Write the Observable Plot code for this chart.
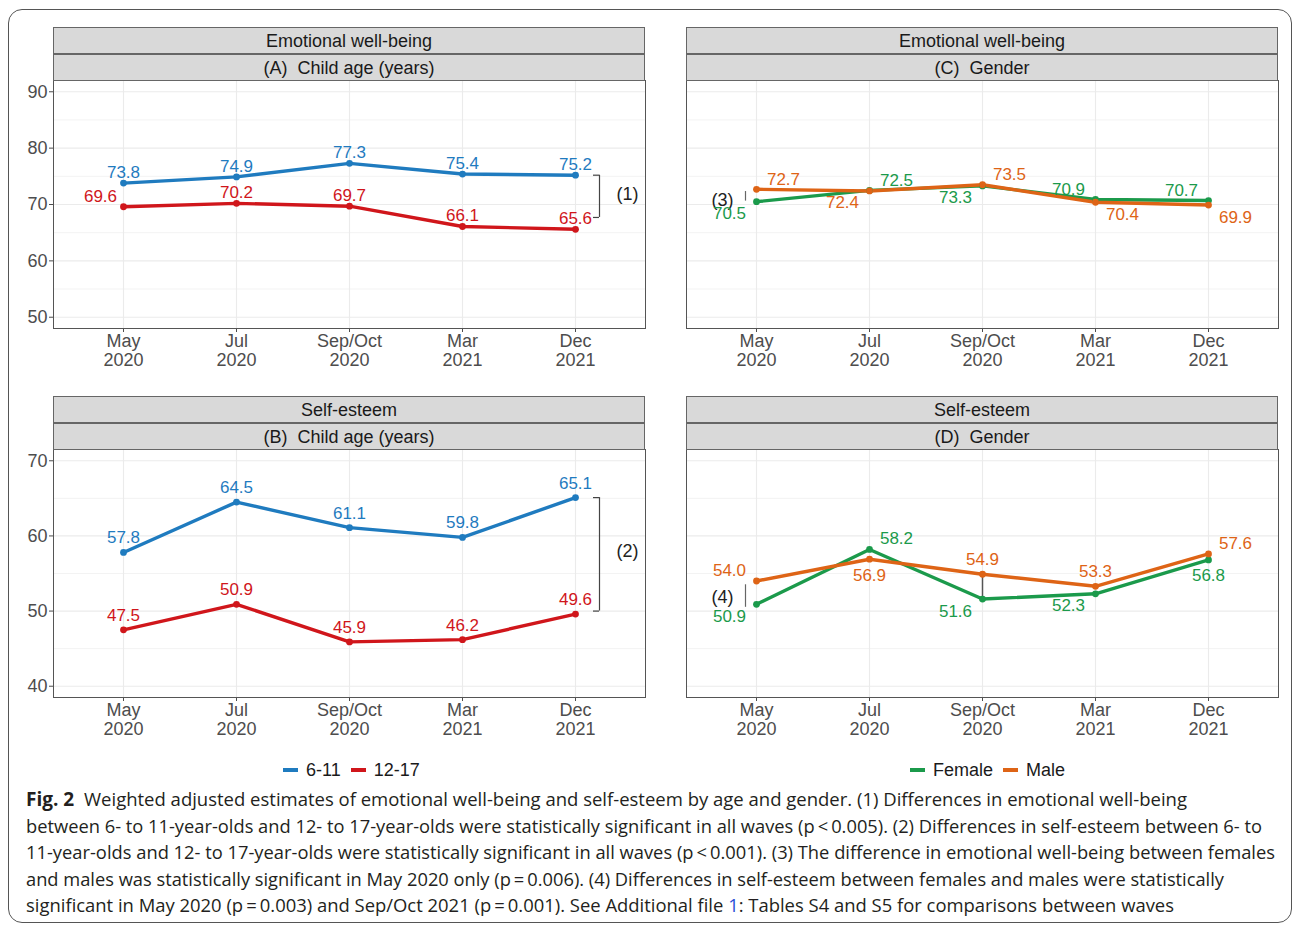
<!DOCTYPE html>
<html>
<head>
<meta charset="utf-8">
<script src="https://cdn.jsdelivr.net/npm/d3@7"></script>
<script src="https://cdn.jsdelivr.net/npm/@observablehq/plot@0.6"></script>
<style>
  body { margin: 0; background: #fff; }
  #fig { position: relative; width: 1292px; height: 925px; overflow: hidden; background: #fff;
         font-family: "Liberation Sans", Arial, sans-serif; }
  .frame { position: absolute; left: 8px; top: 9px; width: 1284px; height: 914px; box-sizing: border-box;
           border: 1.5px solid #555; border-radius: 14px; }
  .strip { position: absolute; box-sizing: border-box; background: #d9d9d9; border: 1px solid #666;
           text-align: center; font-size: 18px; color: #1a1a1a; white-space: pre; }
  .plotwrap { position: absolute; }
  .legend { position: absolute; display: flex; align-items: center; font-size: 18px; color: #1a1a1a; height: 24px; }
  .legend .key { display: inline-block; width: 15px; height: 4px; margin-right: 8px; }
  .legend .lab { margin-right: 10px; }
</style>
</head>
<body>
<div id="fig"><div class="frame"></div></div>
<script>
// Survey waves (x axis)
const waves = ["May 2020", "Jul 2020", "Sep/Oct 2020", "Mar 2021", "Dec 2021"];
const waveMonth = ["May", "Jul", "Sep/Oct", "Mar", "Dec"];
const waveYear = ["2020", "2020", "2020", "2021", "2021"];

// Groups
const ageGroups = ["6-11", "12-17"];
const genders = ["Female", "Male"];

// Emotional well-being by child age
const ewbAge611 = [73.8, 74.9, 77.3, 75.4, 75.2];
const ewbAge1217 = [69.6, 70.2, 69.7, 66.1, 65.6];
// Self-esteem by child age
const seAge611 = [57.8, 64.5, 61.1, 59.8, 65.1];
const seAge1217 = [47.5, 50.9, 45.9, 46.2, 49.6];
// Emotional well-being by gender
const ewbFemale = [70.5, 72.5, 73.3, 70.9, 70.7];
const ewbMale = [72.7, 72.4, 73.5, 70.4, 69.9];
// Self-esteem by gender
const seFemale = [50.9, 58.2, 51.6, 52.3, 56.8];
const seMale = [54.0, 56.9, 54.9, 53.3, 57.6];

// Axis ticks
const ewbTicks = [50, 60, 70, 80, 90];
const ewbMinor = [55, 65, 75, 85];
const seTicks = [40, 50, 60, 70];
const seMinor = [45, 55, 65];

const ageColors = ["#1f7bbf", "#d0161b"];
const genderColors = ["#1b9a4b", "#de6416"];

// Where each value label sits relative to its point (compass direction)
const placeEwbAge = { "6-11": ["n", "n", "n", "n", "n"], "12-17": ["nw", "n", "n", "n", "n"] };
const placeSeAge = { "6-11": ["n", "n", "n", "n", "n"], "12-17": ["n", "n", "n", "n", "n"] };
const placeEwbGender = { "Female": ["sw", "ne", "sw", "nw", "nw"], "Male": ["ne", "sw", "ne", "se", "se"] };
const placeSeGender = { "Female": ["sw", "ne", "sw", "sw", "s"], "Male": ["nw", "s", "n", "n", "ne"] };

const W = 592, H = 248, ML = 50, MR = 20, MT = 20, MB = 50;
const fig = document.getElementById("fig");

function drawPanel(cfg) {
  const rows = cfg.series.flatMap(s =>
    s.values.map((v, i) => ({ group: s.name, wave: waves[i], value: v, pos: s.place[i] })));

  const labelMarks = Object.entries(cfg.offsets).map(([code, [dx, dy]]) =>
    Plot.text(rows.filter(d => d.pos === code), {
      x: "wave", y: "value", text: d => d.value.toFixed(1),
      fill: "group", dx, dy, fontSize: 17
    }));

  const brackets = cfg.brackets || [];
  const bars = cfg.bars || [];
  const links = cfg.links || [];

  const chart = Plot.plot({
    width: W + ML + MR,
    height: H + MT + MB,
    marginLeft: ML, marginRight: MR, marginTop: MT, marginBottom: MB,
    style: { background: "transparent", overflow: "visible", fontSize: "18px",
             fontFamily: "'Liberation Sans', Arial, sans-serif", color: "#4d4d4d" },
    x: { type: "point", domain: waves, padding: 0.6, tickSize: 4, tickFormat: () => "", label: null },
    y: cfg.showY
      ? { domain: cfg.yDomain, ticks: cfg.yTicks, tickSize: 4, tickPadding: 2, label: null }
      : { domain: cfg.yDomain, axis: null },
    color: { domain: cfg.series.map(s => s.name), range: cfg.colors },
    marks: [
      Plot.ruleY(cfg.yMinor, { stroke: "#f3f3f3", strokeWidth: 1 }),
      Plot.ruleY(cfg.yTicks, { stroke: "#ebebeb", strokeWidth: 1.1 }),
      Plot.ruleX(waves, { stroke: "#ebebeb", strokeWidth: 1.1 }),
      Plot.frame({ stroke: "#555", strokeWidth: 1 }),
      // significance brackets to the right of the last wave
      Plot.ruleX(brackets, { x: "wave", y1: "y1", y2: "y2", dx: 24, stroke: "#444", strokeWidth: 1.2 }),
      Plot.ruleY(brackets.flatMap(b => [{ wave: b.wave, y: b.y1 }, { wave: b.wave, y: b.y2 }]),
        { x1: "wave", x2: "wave", y: "y", insetLeft: 18, insetRight: -24, stroke: "#444", strokeWidth: 1.2 }),
      Plot.text(brackets, { x: "wave", y: "ty", text: "text", dx: 52, fontSize: 18, fill: "#222" }),
      // short markers left of the first wave
      Plot.ruleX(bars, { x: "wave", y1: "y1", y2: "y2", dx: -11, stroke: "#666", strokeWidth: 1.2 }),
      Plot.text(bars, { x: "wave", y: "ty", text: "text", dx: -34, fontSize: 18, fill: "#222" }),
      // connector between the two groups at one wave
      Plot.ruleX(links, { x: "wave", y1: "y1", y2: "y2", stroke: "#555", strokeWidth: 1.5 }),
      Plot.line(rows, { x: "wave", y: "value", z: "group", stroke: "group", strokeWidth: 3.4,
                        strokeLinejoin: "round", strokeLinecap: "round" }),
      Plot.dot(rows, { x: "wave", y: "value", fill: "group", r: 3.4 }),
      ...labelMarks,
      Plot.text(waves, { x: d => d, text: (d, i) => waveMonth[i], frameAnchor: "bottom", dy: 18, fontSize: 18, fill: "#4d4d4d" }),
      Plot.text(waves, { x: d => d, text: (d, i) => waveYear[i], frameAnchor: "bottom", dy: 37, fontSize: 18, fill: "#4d4d4d" })
    ]
  });

  const wrap = document.createElement("div");
  wrap.className = "plotwrap";
  wrap.style.left = (cfg.left - ML) + "px";
  wrap.style.top = (cfg.top - MT) + "px";
  wrap.style.width = (W + ML + MR) + "px";
  wrap.appendChild(chart);
  fig.appendChild(wrap);

  // two stacked facet strips above the panel
  cfg.strips.forEach((label, k) => {
    const s = document.createElement("div");
    s.className = "strip";
    s.style.left = cfg.left + "px";
    s.style.width = W + "px";
    s.style.top = (cfg.top - 53 + k * 26.5) + "px";
    s.style.height = "27px";
    s.style.lineHeight = "26px";
    s.textContent = label;
    fig.appendChild(s);
  });
}

drawPanel({
  left: 53, top: 80, showY: true,
  yDomain: [48, 92], yTicks: ewbTicks, yMinor: ewbMinor,
  colors: ageColors,
  series: [
    { name: ageGroups[0], values: ewbAge611, place: placeEwbAge["6-11"] },
    { name: ageGroups[1], values: ewbAge1217, place: placeEwbAge["12-17"] }
  ],
  offsets: { n: [0, -10.5], nw: [-23, -10.5] },
  brackets: [{ wave: "Dec 2021", y1: 75.2, y2: 67.7, text: "(1)", ty: 71.8 }],
  strips: ["Emotional well-being", "(A)  Child age (years)"]
});

drawPanel({
  left: 53, top: 449, showY: true,
  yDomain: [38.5, 71.5], yTicks: seTicks, yMinor: seMinor,
  colors: ageColors,
  series: [
    { name: ageGroups[0], values: seAge611, place: placeSeAge["6-11"] },
    { name: ageGroups[1], values: seAge1217, place: placeSeAge["12-17"] }
  ],
  offsets: { n: [0, -14.5] },
  brackets: [{ wave: "Dec 2021", y1: 65.1, y2: 50.0, text: "(2)", ty: 57.9 }],
  strips: ["Self-esteem", "(B)  Child age (years)"]
});

drawPanel({
  left: 686, top: 80, showY: false,
  yDomain: [48, 92], yTicks: ewbTicks, yMinor: ewbMinor,
  colors: genderColors,
  series: [
    { name: genders[0], values: ewbFemale, place: placeEwbGender["Female"] },
    { name: genders[1], values: ewbMale, place: placeEwbGender["Male"] }
  ],
  offsets: { ne: [27, -10], nw: [-27, -10], sw: [-27, 12], se: [27, 12] },
  bars: [{ wave: "May 2020", y1: 72.3, y2: 70.6, text: "(3)", ty: 70.7 }],
  strips: ["Emotional well-being", "(C)  Gender"]
});

drawPanel({
  left: 686, top: 449, showY: false,
  yDomain: [38.5, 71.5], yTicks: seTicks, yMinor: seMinor,
  colors: genderColors,
  series: [
    { name: genders[0], values: seFemale, place: placeSeGender["Female"] },
    { name: genders[1], values: seMale, place: placeSeGender["Male"] }
  ],
  offsets: { n: [0, -15], s: [0, 16], ne: [27, -10.5], nw: [-27, -10.5], sw: [-27, 12] },
  bars: [{ wave: "May 2020", y1: 53.5, y2: 50.5, text: "(4)", ty: 51.8 }],
  links: [{ wave: "Sep/Oct 2020", y1: 54.9, y2: 51.6 }],
  strips: ["Self-esteem", "(D)  Gender"]
});

// Legends under each column
function legend(names, colors, left) {
  const el = document.createElement("div");
  el.className = "legend";
  el.style.left = left + "px";
  el.style.top = "758px";
  names.forEach((n, i) => {
    const k = document.createElement("span");
    k.className = "key";
    k.style.background = colors[i];
    const t = document.createElement("span");
    t.className = "lab";
    t.textContent = n;
    el.appendChild(k);
    el.appendChild(t);
  });
  fig.appendChild(el);
}
legend(ageGroups, ageColors, 283);
legend(genders, genderColors, 910);

// Figure caption
const captionLines = [
  { x: 84, end: 1187, parts: [["Weighted adjusted estimates of emotional well-being and self-esteem by age and gender. (1) Differences in emotional well-being"]] },
  { x: 26, end: 1262, parts: [["between 6- to 11-year-olds and 12- to 17-year-olds were statistically significant in all waves (p\u2009<\u20090.005). (2) Differences in self-esteem between 6- to"]] },
  { x: 26, end: 1275, parts: [["11-year-olds and 12- to 17-year-olds were statistically significant in all waves (p\u2009<\u20090.001). (3) The difference in emotional well-being between females"]] },
  { x: 26, end: 1224, parts: [["and males was statistically significant in May 2020 only (p\u2009=\u20090.006). (4) Differences in self-esteem between females and males were statistically"]] },
  { x: 26, end: 1174, parts: [["significant in May 2020 (p\u2009=\u20090.003) and Sep/Oct 2021 (p\u2009=\u20090.001). See Additional file "], ["1", "#2b4fd6"], [": Tables S4 and S5 for comparisons between waves"]] }
];
const cap = d3.create("svg").attr("width", 1292).attr("height", 140)
  .style("position", "absolute").style("left", "0px").style("top", "785px")
  .style("font-family", "'Open Sans', 'Noto Sans', sans-serif").style("font-size", "19px");
cap.append("text").attr("x", 26).attr("y", 21).attr("font-weight", "bold").attr("fill", "#231f20").text("Fig. 2");
captionLines.forEach((ln, i) => {
  const t = cap.append("text").attr("x", ln.x).attr("y", 21 + i * 26.5).attr("fill", "#231f20")
    .attr("textLength", ln.end - ln.x).attr("lengthAdjust", "spacingAndGlyphs");
  ln.parts.forEach(([s, c]) => { const sp = t.append("tspan").text(s); if (c) sp.attr("fill", c); });
});
fig.appendChild(cap.node());
</script>
</body>
</html>
